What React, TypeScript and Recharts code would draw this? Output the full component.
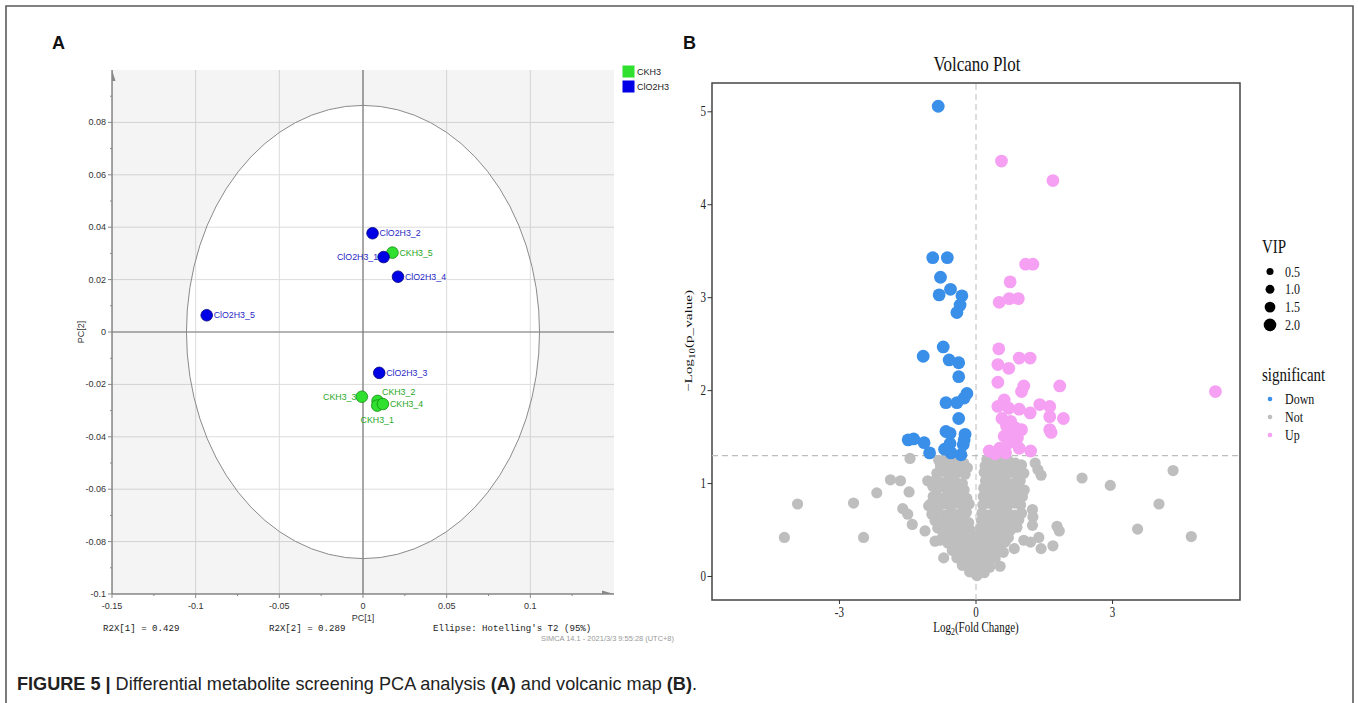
import React from 'react';
import { ScatterChart, Scatter, XAxis, YAxis, CartesianGrid, ReferenceLine, ReferenceArea } from 'recharts';

const SANS = '"Liberation Sans", Arial, Helvetica, sans-serif';
const MONO = '"Liberation Mono", "DejaVu Sans Mono", monospace';
const SERIF = '"Liberation Serif", "Times New Roman", serif';

// ---------- Panel A: PCA scores ----------
const pcaCKH3 = [
  { name: 'CKH3_5', pc1: 0.0176, pc2: 0.0303 },
  { name: 'CKH3_3', pc1: -0.0007, pc2: -0.0247 },
  { name: 'CKH3_2', pc1: 0.0087, pc2: -0.0263 },
  { name: 'CKH3_1', pc1: 0.0085, pc2: -0.0281 },
  { name: 'CKH3_4', pc1: 0.0119, pc2: -0.0275 },
];
const pcaClO2H3 = [
  { name: 'ClO2H3_1', pc1: 0.0123, pc2: 0.0286 },
  { name: 'ClO2H3_2', pc1: 0.0057, pc2: 0.0377 },
  { name: 'ClO2H3_3', pc1: 0.0097, pc2: -0.0156 },
  { name: 'ClO2H3_4', pc1: 0.0209, pc2: 0.0211 },
  { name: 'ClO2H3_5', pc1: -0.0934, pc2: 0.0064 },
];
// Hotelling T2 (95%) ellipse: centre, semi-axis ends, and plot corners
const ellipseRef = [
  { pc1: 0, pc2: 0 },
  { pc1: 0.1055, pc2: 0 },
  { pc1: 0, pc2: 0.0865 },
  { pc1: -0.15, pc2: -0.1 },
  { pc1: 0.15, pc2: 0.1 },
];
const pcaXDomain = [-0.15, 0.15];
const pcaYDomain = [-0.1, 0.1];
const pcaXTicks = [-0.15, -0.125, -0.1, -0.075, -0.05, -0.025, 0, 0.025, 0.05, 0.075, 0.1, 0.125];
const pcaXMajor = [-0.15, -0.1, -0.05, 0, 0.05, 0.1];
const pcaYTicks = [-0.1, -0.09, -0.08, -0.07, -0.06, -0.05, -0.04, -0.03, -0.02, -0.01, 0, 0.01, 0.02, 0.03, 0.04, 0.05, 0.06, 0.07, 0.08, 0.09];
const pcaYMajor = [-0.1, -0.08, -0.06, -0.04, -0.02, 0, 0.02, 0.04, 0.06, 0.08];
const pcaLabelSide: Record<string, string> = { ClO2H3_1: 'left', CKH3_3: 'left', CKH3_2: 'above', CKH3_1: 'below' };

// ---------- Panel B: volcano ----------
const volDown: number[][] = [
  [-0.83, 5.06], [-0.95, 3.43], [-0.63, 3.43], [-0.78, 3.22], [-0.56, 3.09], [-0.81, 3.03], [-0.31, 3.02],
  [-0.35, 2.92], [-0.42, 2.84], [-0.72, 2.47], [-1.16, 2.37], [-0.59, 2.33], [-0.38, 2.30], [-0.38, 2.15],
  [-0.2, 1.97], [-0.26, 1.92], [-0.66, 1.87], [-0.42, 1.87], [-0.38, 1.70], [-0.66, 1.56], [-0.57, 1.54],
  [-0.24, 1.53], [-0.26, 1.47], [-1.49, 1.47], [-1.37, 1.48], [-1.14, 1.44], [-1.02, 1.33], [-0.69, 1.37],
  [-0.57, 1.43], [-0.33, 1.31], [-0.28, 1.42], [-0.55, 1.33],
];
const volUp: number[][] = [
  [0.56, 4.47], [1.69, 4.26], [1.09, 3.36], [1.25, 3.36], [0.75, 3.17], [0.51, 2.95], [0.73, 2.99], [0.93, 2.99],
  [0.50, 2.45], [0.48, 2.28], [0.72, 2.24], [0.95, 2.35], [1.19, 2.35], [0.48, 2.09], [1.84, 2.05], [1.05, 2.05],
  [1.0, 1.99], [5.26, 1.99], [0.48, 1.83], [0.62, 1.90], [0.72, 1.81], [0.95, 1.80], [1.19, 1.76], [1.40, 1.85],
  [1.62, 1.83], [1.62, 1.72], [1.92, 1.70], [1.62, 1.58], [1.65, 1.55], [0.57, 1.70], [0.76, 1.67], [1.0, 1.58],
  [0.86, 1.60], [0.62, 1.51], [0.91, 1.49], [0.29, 1.35], [0.52, 1.38], [0.95, 1.38], [1.2, 1.35], [0.72, 1.44],
  [0.67, 1.62], [0.80, 1.52], [0.42, 1.32], [0.65, 1.33],
];
const volNotOuter: number[][] = [
  [-4.21, 0.42], [-3.92, 0.78], [-2.69, 0.79], [-2.47, 0.42], [-2.18, 0.90], [-1.88, 1.04], [-1.66, 1.03],
  [-1.45, 1.27], [-1.47, 0.91], [-1.61, 0.73], [-1.50, 0.67], [-1.40, 0.56], [-1.12, 0.49], [-0.90, 0.38],
  [-0.80, 0.39], [-0.71, 0.20], [-1.06, 1.03], [-0.95, 0.97], [-1.04, 0.76], [-0.90, 0.72],
  [2.33, 1.06], [2.95, 0.98], [4.33, 1.14], [4.02, 0.78], [3.55, 0.51], [4.73, 0.43], [1.78, 0.54], [1.83, 0.49],
  [1.69, 0.33], [1.43, 0.30], [1.38, 0.42], [1.24, 0.72], [1.25, 0.64], [1.24, 0.55], [1.20, 0.37], [1.05, 0.39],
  [1.43, 1.09], [1.36, 1.15], [1.30, 1.22], [0.84, 0.30], [0.53, 0.11],
];
const volNotCore: number[][] = [
  [-0.82, 1.25], [-0.66, 1.27], [-0.52, 1.24], [-0.38, 1.28], [-0.27, 1.22], [0.24, 1.26], [0.40, 1.28], [0.55, 1.27], [0.70, 1.25], [0.86, 1.22], [1.0, 1.2],
  [-0.78, 1.19], [-0.63, 1.21], [-0.47, 1.18], [-0.33, 1.2], [-0.19, 1.17], [0.2, 1.19], [0.34, 1.21], [0.49, 1.18], [0.63, 1.2], [0.79, 1.17], [0.94, 1.19],
  [-0.86, 1.11], [-0.71, 1.13], [-0.55, 1.1], [-0.4, 1.12], [-0.24, 1.1], [0.18, 1.12], [0.31, 1.1], [0.46, 1.13], [0.61, 1.1], [0.76, 1.12], [0.9, 1.09], [1.05, 1.11],
  [-0.9, 1.03], [-0.76, 1.01], [-0.6, 1.04], [-0.45, 1.02], [-0.3, 1.0], [0.21, 1.03], [0.36, 1.01], [0.5, 1.04], [0.66, 1.02], [0.81, 1.0], [0.97, 1.03],
  [-0.86, 0.94], [-0.71, 0.96], [-0.56, 0.93], [-0.41, 0.95], [-0.26, 0.93], [0.17, 0.95], [0.3, 0.93], [0.45, 0.96], [0.6, 0.94], [0.75, 0.92], [0.9, 0.95], [1.06, 0.93],
  [-0.94, 0.86], [-0.79, 0.84], [-0.64, 0.87], [-0.49, 0.85], [-0.34, 0.86], [-0.2, 0.84], [0.16, 0.86], [0.28, 0.84], [0.42, 0.87], [0.57, 0.85], [0.72, 0.86], [0.87, 0.84], [1.02, 0.86],
  [-1.0, 0.78], [-0.86, 0.76], [-0.72, 0.78], [-0.57, 0.76], [-0.42, 0.79], [-0.28, 0.76], [-0.15, 0.78], [0.15, 0.77], [0.27, 0.79], [0.4, 0.76], [0.54, 0.78], [0.69, 0.76], [0.84, 0.79], [0.98, 0.77],
  [-0.97, 0.67], [-0.82, 0.69], [-0.67, 0.66], [-0.51, 0.68], [-0.36, 0.67], [-0.21, 0.69], [0.13, 0.68], [0.26, 0.66], [0.4, 0.69], [0.55, 0.67], [0.7, 0.68], [0.85, 0.66], [1.0, 0.68],
  [-0.9, 0.6], [-0.75, 0.58], [-0.6, 0.61], [-0.46, 0.59], [-0.31, 0.6], [-0.16, 0.58], [0.12, 0.6], [0.24, 0.58], [0.37, 0.61], [0.51, 0.59], [0.65, 0.6], [0.8, 0.58], [0.94, 0.61],
  [-0.84, 0.52], [-0.7, 0.5], [-0.56, 0.53], [-0.42, 0.51], [-0.28, 0.52], [-0.13, 0.5], [0.1, 0.52], [0.22, 0.5], [0.35, 0.53], [0.48, 0.51], [0.62, 0.52], [0.76, 0.5], [0.9, 0.53],
  [-0.72, 0.44], [-0.59, 0.42], [-0.46, 0.45], [-0.33, 0.43], [-0.2, 0.44], [-0.07, 0.42], [0.05, 0.44], [0.17, 0.42], [0.3, 0.45], [0.43, 0.43], [0.57, 0.44], [0.71, 0.42],
  [-0.62, 0.36], [-0.5, 0.34], [-0.38, 0.37], [-0.25, 0.35], [-0.12, 0.36], [0.0, 0.34], [0.12, 0.37], [0.25, 0.35], [0.38, 0.36], [0.51, 0.34], [0.64, 0.37],
  [-0.52, 0.28], [-0.4, 0.26], [-0.28, 0.29], [-0.15, 0.27], [-0.03, 0.28], [0.09, 0.26], [0.21, 0.29], [0.34, 0.27], [0.47, 0.28], [0.6, 0.26],
  [-0.42, 0.2], [-0.3, 0.18], [-0.18, 0.21], [-0.06, 0.19], [0.06, 0.2], [0.18, 0.18], [0.3, 0.21], [0.42, 0.19],
  [-0.3, 0.12], [-0.18, 0.11], [-0.06, 0.13], [0.06, 0.11], [0.18, 0.12], [0.3, 0.1],
  [-0.14, 0.05], [-0.03, 0.04], [0.08, 0.06], [0.18, 0.04], [0.02, 0.01],
];
const volXDomain = [-5.8, 5.8];
const volYDomain = [-0.253, 5.31];
const volXTicks = [-3, 0, 3];
const volYTicks = [0, 1, 2, 3, 4, 5];
const volPThreshold = 1.30103;
const vipLegend = [0.5, 1.0, 1.5, 2.0];
const sigLegend = ['Down', 'Not', 'Up'];

const COLORS: Record<string, string> = { Down: '#3a8fe9', Not: '#bebebe', Up: '#f5a0f2' };

const toPts = (arr: number[][]) => arr.map(([fc, logp]) => ({ fc, logp }));
const downData = toPts(volDown);
const upData = toPts(volUp);
const notData = toPts([...volNotOuter, ...volNotCore]);

const isIn = (v: number, list: number[]) => list.some((m) => Math.abs(m - v) < 1e-9);
const fmtA = (v: number) => (Math.abs(v) < 1e-12 ? '0' : String(+v.toFixed(3)));

// ---------- Panel A render helpers ----------
const EllipseOverlay = (props: any) => {
  const pts = props.points;
  if (!pts || pts.length < 5) return <g />;
  const [c, rxp, ryp, bl, tr] = pts;
  const rx = Math.abs(rxp.x - c.x);
  const ry = Math.abs(c.y - ryp.y);
  const d = `M${bl.x},${tr.y}H${tr.x}V${bl.y}H${bl.x}Z M${c.x - rx},${c.y} a${rx},${ry} 0 1,0 ${2 * rx},0 a${rx},${ry} 0 1,0 ${-2 * rx},0 Z`;
  return (
    <g>
      <path d={d} fill="#000" fillOpacity={0.045} fillRule="evenodd" stroke="none" />
      <ellipse cx={c.x} cy={c.y} rx={rx} ry={ry} fill="none" stroke="#8a8a8a" strokeWidth={1} />
      <path d={`M${bl.x},${tr.y} L${bl.x - 3.5},${tr.y + 11} L${bl.x + 3.5},${tr.y + 11} Z`} fill="#888" />
      <path d={`M${tr.x},${bl.y} L${tr.x - 12},${bl.y - 3.5} L${tr.x - 12},${bl.y + 3.5} Z`} fill="#888" />
    </g>
  );
};

const pcaShape = (fill: string, stroke: string, color: string) => (p: any) => {
  const { cx, cy, payload } = p;
  const side = pcaLabelSide[payload.name] || 'right';
  let tx = cx + 7;
  let ty = cy + 3.2;
  let anchor: any = 'start';
  if (side === 'left') { tx = cx - 5.5; anchor = 'end'; }
  if (side === 'above') { tx = cx + 4.5; ty = cy - 6; }
  if (side === 'below') { tx = cx; ty = cy + 17; anchor = 'middle'; }
  return (
    <g>
      <circle cx={cx} cy={cy} r={5.8} fill={fill} stroke={stroke} strokeWidth={0.8} />
      <text x={tx} y={ty} fontSize={8.8} fill={color} textAnchor={anchor} fontFamily={SANS}>{payload.name}</text>
    </g>
  );
};

const PcaYTick = (props: any) => {
  const { x, y, payload } = props;
  const major = isIn(payload.value, pcaYMajor);
  const len = major ? 4 : 2;
  return (
    <g>
      <line x1={x} y1={y} x2={x - len} y2={y} stroke="#888" strokeWidth={1} />
      {major && (
        <text x={x - 6} y={y + 3} textAnchor="end" fontSize={9} fill="#333" fontFamily={SANS}>{fmtA(payload.value)}</text>
      )}
    </g>
  );
};

const PcaXTick = (props: any) => {
  const { x, y, payload } = props;
  const major = isIn(payload.value, pcaXMajor);
  const len = major ? 4 : 2;
  return (
    <g>
      <line x1={x} y1={y} x2={x} y2={y + len} stroke="#888" strokeWidth={1} />
      {major && (
        <text x={x} y={y + 15} textAnchor="middle" fontSize={9} fill="#333" fontFamily={SANS}>{fmtA(payload.value)}</text>
      )}
    </g>
  );
};

// ---------- Panel B render helpers ----------
const SY = 1.25;
const SText = ({ x, y, sy = SY, children, ...rest }: any) => (
  <text transform={`translate(${x},${y}) scale(1,${sy})`} x={0} y={0} {...rest}>{children}</text>
);

const VolYTick = (props: any) => {
  const { x, y, payload } = props;
  return (
    <g>
      <line x1={x} y1={y} x2={x - 4.5} y2={y} stroke="#333" strokeWidth={1} />
      <SText x={x - 6} y={y + 4.5} textAnchor="end" fontSize={11} fill="#222" fontFamily={SERIF}>{payload.value}</SText>
    </g>
  );
};
const VolXTick = (props: any) => {
  const { x, y, payload } = props;
  return (
    <g>
      <line x1={x} y1={y} x2={x} y2={y + 4} stroke="#333" strokeWidth={1} />
      <SText x={x} y={y + 16.5} textAnchor="middle" fontSize={11} fill="#222" fontFamily={SERIF}>{payload.value}</SText>
    </g>
  );
};
const dot = (r: number, fill: string) => (p: any) => <circle cx={p.cx} cy={p.cy} r={r} fill={fill} />;

export default function App() {
  return (
    <div style={{ position: 'absolute', left: 0, top: 0, width: 1358, height: 703, background: '#fff', overflow: 'hidden' }}>
      {/* Panel A */}
      <div style={{ position: 'absolute', left: 0, top: 0 }}>
        <ScatterChart width={680} height={703} margin={{ top: 70, right: 66, bottom: 79, left: 72 }}>
          <CartesianGrid
            stroke="#dcdcdc"
            fill="none"
            horizontalValues={pcaYMajor.filter((v) => v > -0.1)}
            verticalValues={pcaXMajor.filter((v) => v > -0.15)}
          />
          <XAxis
            type="number" dataKey="pc1" domain={pcaXDomain} ticks={pcaXTicks} allowDataOverflow
            height={30} tickSize={0} tickMargin={0} tickLine={false} tick={<PcaXTick />}
            axisLine={{ stroke: '#888', strokeWidth: 1.5 }} interval={0}
          />
          <YAxis
            type="number" dataKey="pc2" domain={pcaYDomain} ticks={pcaYTicks} allowDataOverflow
            width={40} tickSize={0} tickMargin={0} tickLine={false} tick={<PcaYTick />}
            axisLine={{ stroke: '#888', strokeWidth: 1.5 }} interval={0}
          />
          <ReferenceLine x={0} stroke="#7a7a7a" strokeWidth={1.2} />
          <ReferenceLine y={0} stroke="#7a7a7a" strokeWidth={1.2} />
          <Scatter data={ellipseRef} isAnimationActive={false} line={EllipseOverlay} lineType="joint" shape={() => <g />} />
          <Scatter data={pcaCKH3} isAnimationActive={false} shape={pcaShape('#2fe02f', '#138a13', '#1fa81f')} />
          <Scatter data={pcaClO2H3} isAnimationActive={false} shape={pcaShape('#0000e6', '#00007a', '#2727c4')} />
        </ScatterChart>
      </div>

      {/* Panel B */}
      <div style={{ position: 'absolute', left: 680, top: 0 }}>
        <ScatterChart width={678} height={703} margin={{ top: 83, right: 118, bottom: 73, left: 2 }}>
          <XAxis
            type="number" dataKey="fc" domain={volXDomain} ticks={volXTicks} allowDataOverflow
            height={30} tickSize={0} tickMargin={0} tickLine={false} axisLine={false} tick={<VolXTick />} interval={0}
          />
          <YAxis
            type="number" dataKey="logp" domain={volYDomain} ticks={volYTicks} allowDataOverflow
            width={30} tickSize={0} tickMargin={0} tickLine={false} axisLine={false} tick={<VolYTick />} interval={0}
          />
          <ReferenceLine x={0} stroke="#bdbdbd" strokeWidth={1} strokeDasharray="6 4" />
          <ReferenceLine y={volPThreshold} stroke="#bdbdbd" strokeWidth={1.2} strokeDasharray="6 4" />
          <Scatter data={notData} isAnimationActive={false} shape={dot(5.6, COLORS.Not)} />
          <Scatter data={downData} isAnimationActive={false} shape={dot(6.4, COLORS.Down)} />
          <Scatter data={upData} isAnimationActive={false} shape={dot(6.4, COLORS.Up)} />
          <ReferenceArea x1={volXDomain[0]} x2={volXDomain[1]} y1={volYDomain[0]} y2={volYDomain[1]} fill="none" fillOpacity={0} stroke="#444" strokeWidth={1.5} />
        </ScatterChart>
      </div>

      {/* Static text & frame */}
      <svg width={1358} height={703} style={{ position: 'absolute', left: 0, top: 0, pointerEvents: 'none' }}>
        <path d="M6,703 V6 H1353 V703" fill="none" stroke="#5a5a5a" strokeWidth={1.6} />
        <text x={52} y={49} fontSize={18} fontWeight="bold" fontFamily={SANS} fill="#111">A</text>
        <text x={683} y={49} fontSize={18} fontWeight="bold" fontFamily={SANS} fill="#111">B</text>

        {/* PCA legend */}
        <rect x={622.5} y={65.5} width={12} height={12} fill="#2fe02f" />
        <text x={637} y={75} fontSize={9} fontFamily={SANS} fill="#222">CKH3</text>
        <rect x={622.5} y={80.5} width={12} height={12} fill="#0000e6" />
        <text x={637} y={90} fontSize={9} fontFamily={SANS} fill="#222">ClO2H3</text>

        <text transform="translate(84,332) rotate(-90)" textAnchor="middle" fontSize={9} fontFamily={SANS} fill="#333">PC[2]</text>
        <text x={363} y={621} textAnchor="middle" fontSize={9} fontFamily={SANS} fill="#333">PC[1]</text>
        <text x={103} y={631} fontSize={9.1} fontFamily={MONO} fill="#222">R2X[1] = 0.429</text>
        <text x={269} y={631} fontSize={9.1} fontFamily={MONO} fill="#222">R2X[2] = 0.289</text>
        <text x={433} y={631} fontSize={9.1} fontFamily={MONO} fill="#222">Ellipse: Hotelling's T2 (95%)</text>
        <text x={541} y={641} fontSize={6.6} fontFamily={SANS} fill="#999" textLength={133} lengthAdjust="spacingAndGlyphs">SIMCA 14.1 - 2021/3/3 9:55:28 (UTC+8)</text>

        {/* Volcano titles */}
        <SText x={977} y={71} textAnchor="middle" fontSize={17} fontFamily={SERIF} fill="#111">Volcano Plot</SText>
        <SText x={976} y={632} textAnchor="middle" fontSize={11} fontFamily={SERIF} fill="#111">
          Log<tspan fontSize={8} dy={2.5}>2</tspan><tspan dy={-2.5}>(Fold Change)</tspan>
        </SText>
        <text transform="translate(692,341) rotate(-90) scale(1.38,1)" textAnchor="middle" fontSize={11} fontFamily={SERIF} fill="#111">
          −Log<tspan fontSize={8} dy={2.5}>10</tspan><tspan dy={-2.5}>(p_value)</tspan>
        </text>

        {/* Volcano legends */}
        <SText x={1262} y={253} fontSize={15} fontFamily={SERIF} fill="#111">VIP</SText>
        {vipLegend.map((v, i) => (
          <g key={v}>
            <circle cx={1270} cy={271.5 + i * 17.8} r={2.6 + 1.85 * v} fill="#000" />
            <SText x={1285} y={276.5 + i * 17.8} fontSize={12} fontFamily={SERIF} fill="#111">{v.toFixed(1)}</SText>
          </g>
        ))}
        <SText x={1262} y={381} fontSize={15} fontFamily={SERIF} fill="#111">significant</SText>
        {sigLegend.map((s, i) => (
          <g key={s}>
            <circle cx={1270} cy={399 + i * 18} r={2.3} fill={COLORS[s]} />
            <SText x={1285} y={404 + i * 18} fontSize={12} fontFamily={SERIF} fill="#111">{s}</SText>
          </g>
        ))}

        {/* Caption */}
        <SText x={17} y={690} sy={1.15} fontSize={16} fontFamily={SANS} fill="#222" textLength={680} lengthAdjust="spacingAndGlyphs">
          <tspan fontWeight="bold">FIGURE 5 | </tspan>Differential metabolite screening PCA analysis <tspan fontWeight="bold">(A)</tspan> and volcanic map <tspan fontWeight="bold">(B)</tspan>.
        </SText>
      </svg>
    </div>
  );
}
